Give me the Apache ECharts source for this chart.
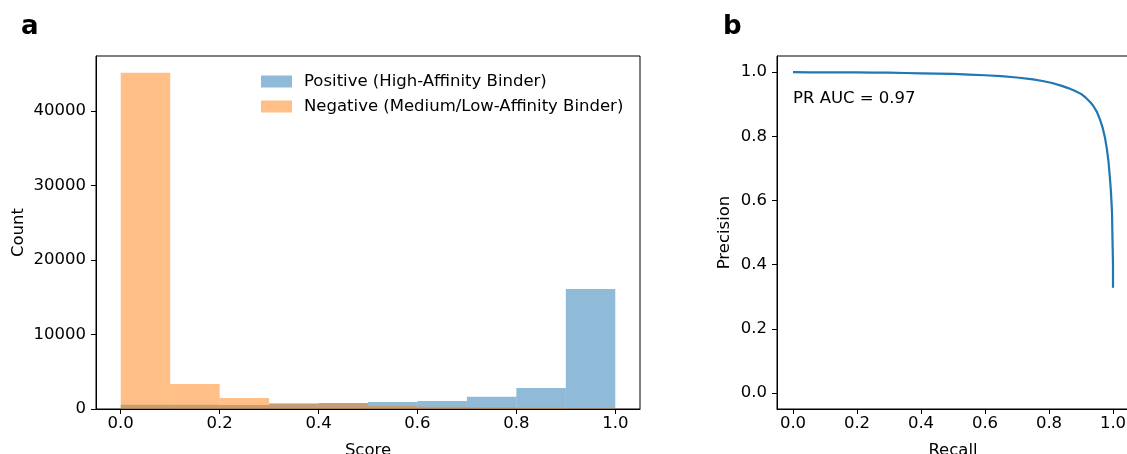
<!DOCTYPE html>
<html>
<head>
<meta charset="utf-8">
<script src="https://cdn.jsdelivr.net/npm/echarts@6/dist/echarts.min.js"></script>
<style>
html,body{margin:0;padding:0;background:#fff;}
#chart{width:1127px;height:454px;}
</style>
</head>
<body>
<div id="chart"></div>
<script>
// ---- Data ----
const binEdges = [0.0, 0.1, 0.2, 0.3, 0.4, 0.5, 0.6, 0.7, 0.8, 0.9, 1.0];
const positiveCounts = [580, 560, 550, 700, 790, 940, 1070, 1650, 2820, 16100];
const negativeCounts = [45100, 3350, 1480, 770, 760, 440, 300, 230, 170, 100];
const positiveName = 'Positive (High-Affinity Binder)';
const negativeName = 'Negative (Medium/Low-Affinity Binder)';

const recall = [0, 0.05, 0.1, 0.15, 0.2, 0.25, 0.3, 0.35, 0.4, 0.45, 0.5, 0.55, 0.6, 0.65, 0.7, 0.75, 0.78, 0.81, 0.84, 0.86, 0.88, 0.9, 0.915, 0.93, 0.94, 0.95, 0.96, 0.968, 0.975, 0.981, 0.986, 0.99, 0.993, 0.995, 0.997, 0.998, 0.999, 1.0, 1.0];
const precision = [1.0, 0.999, 0.999, 0.999, 0.999, 0.998, 0.998, 0.997, 0.996, 0.995, 0.994, 0.992, 0.990, 0.987, 0.983, 0.977, 0.972, 0.966, 0.957, 0.950, 0.942, 0.932, 0.920, 0.905, 0.892, 0.875, 0.850, 0.825, 0.795, 0.76, 0.72, 0.675, 0.635, 0.60, 0.56, 0.50, 0.45, 0.40, 0.328];
const prAucText = 'PR AUC = 0.97';

const scoreTicks = [0.0, 0.2, 0.4, 0.6, 0.8, 1.0];
const countTicks = [0, 10000, 20000, 30000, 40000];
const unitTicks = [0.0, 0.2, 0.4, 0.6, 0.8, 1.0];

// ---- Build ----
const FONT = 'DejaVu Sans';
const FS = 16.5;
const blue = 'rgba(31,119,180,0.5)';
const orange = 'rgba(255,127,14,0.5)';

function histData(counts) {
  return counts.map((c, i) => [binEdges[i], binEdges[i + 1], c]);
}
function renderBin(params, api) {
  const p0 = api.coord([api.value(0), api.value(2)]);
  const p1 = api.coord([api.value(1), 0]);
  return {
    type: 'rect',
    shape: { x: p0[0], y: p0[1], width: p1[0] - p0[0], height: p1[1] - p0[1] },
    style: { fill: api.visual('color') }
  };
}
const maxCount = Math.max(...positiveCounts, ...negativeCounts);

function axisCommon(ticks, fmt, margin) {
  return {
    axisLine: { show: true, onZero: false, lineStyle: { color: '#000', width: 1 } },
    axisTick: { show: true, length: 5, inside: false, lineStyle: { color: '#000', width: 1 }, customValues: ticks },
    axisLabel: { show: true, margin: margin, color: '#000', fontFamily: FONT, fontSize: FS, customValues: ticks, formatter: fmt },
    splitLine: { show: false },
    nameTextStyle: { color: '#000', fontFamily: FONT, fontSize: FS }
  };
}
const f1 = v => Number(v).toFixed(1);
const f0 = v => String(Math.round(v));

const option = {
  animation: false,
  backgroundColor: '#fff',
  grid: [
    { left: 96, top: 56, width: 544, height: 353, show: true, borderColor: '#000', borderWidth: 1, backgroundColor: 'transparent', containLabel: false, outerBoundsMode: 'none' },
    { left: 777, top: 56, width: 352, height: 353, show: true, borderColor: '#000', borderWidth: 1, backgroundColor: 'transparent', containLabel: false, outerBoundsMode: 'none' }
  ],
  xAxis: [
    Object.assign({ type: 'value', gridIndex: 0, min: -0.05, max: 1.05, name: 'Score', nameLocation: 'middle', nameGap: 33 }, axisCommon(scoreTicks, f1, 6)),
    Object.assign({ type: 'value', gridIndex: 1, min: -0.05, max: 1.05, name: 'Recall', nameLocation: 'middle', nameGap: 33 }, axisCommon(unitTicks, f1, 6))
  ],
  yAxis: [
    Object.assign({ type: 'value', gridIndex: 0, min: 0, max: maxCount * 1.05, name: 'Count', nameLocation: 'middle', nameGap: 69 }, axisCommon(countTicks, f0, 10)),
    Object.assign({ type: 'value', gridIndex: 1, min: -0.05, max: 1.05, name: 'Precision', nameLocation: 'middle', nameGap: 44 }, axisCommon(unitTicks, f1, 10))
  ],
  legend: {
    data: [positiveName, negativeName],
    orient: 'vertical',
    left: 256, top: 68,
    icon: 'rect',
    itemWidth: 31, itemHeight: 12,
    itemGap: 8,
    textStyle: { color: '#000', fontFamily: FONT, fontSize: FS, padding: [0, 0, 0, 7] }
  },
  graphic: [
    { type: 'text', left: 21, top: 14, style: { text: 'a', fontFamily: FONT, fontSize: 26, fontWeight: 'bold', fill: '#000' } },
    { type: 'text', left: 723, top: 14, style: { text: 'b', fontFamily: FONT, fontSize: 26, fontWeight: 'bold', fill: '#000' } },
    { type: 'text', left: 793, top: 90, style: { text: prAucText, fontFamily: FONT, fontSize: FS, fill: '#000' } }
  ],
  series: [
    { name: positiveName, type: 'custom', xAxisIndex: 0, yAxisIndex: 0, renderItem: renderBin, itemStyle: { color: blue }, data: histData(positiveCounts), encode: { x: [0, 1], y: 2 } },
    { name: negativeName, type: 'custom', xAxisIndex: 0, yAxisIndex: 0, renderItem: renderBin, itemStyle: { color: orange }, data: histData(negativeCounts), encode: { x: [0, 1], y: 2 } },
    { name: 'PR', type: 'line', xAxisIndex: 1, yAxisIndex: 1, showSymbol: false, symbol: 'none', lineStyle: { color: '#1f77b4', width: 2.2 }, itemStyle: { color: '#1f77b4' }, data: recall.map((r, i) => [r, precision[i]]) }
  ]
};
const chart = echarts.init(document.getElementById('chart'), null, { renderer: 'canvas' });
chart.setOption(option);
</script>
</body>
</html>
